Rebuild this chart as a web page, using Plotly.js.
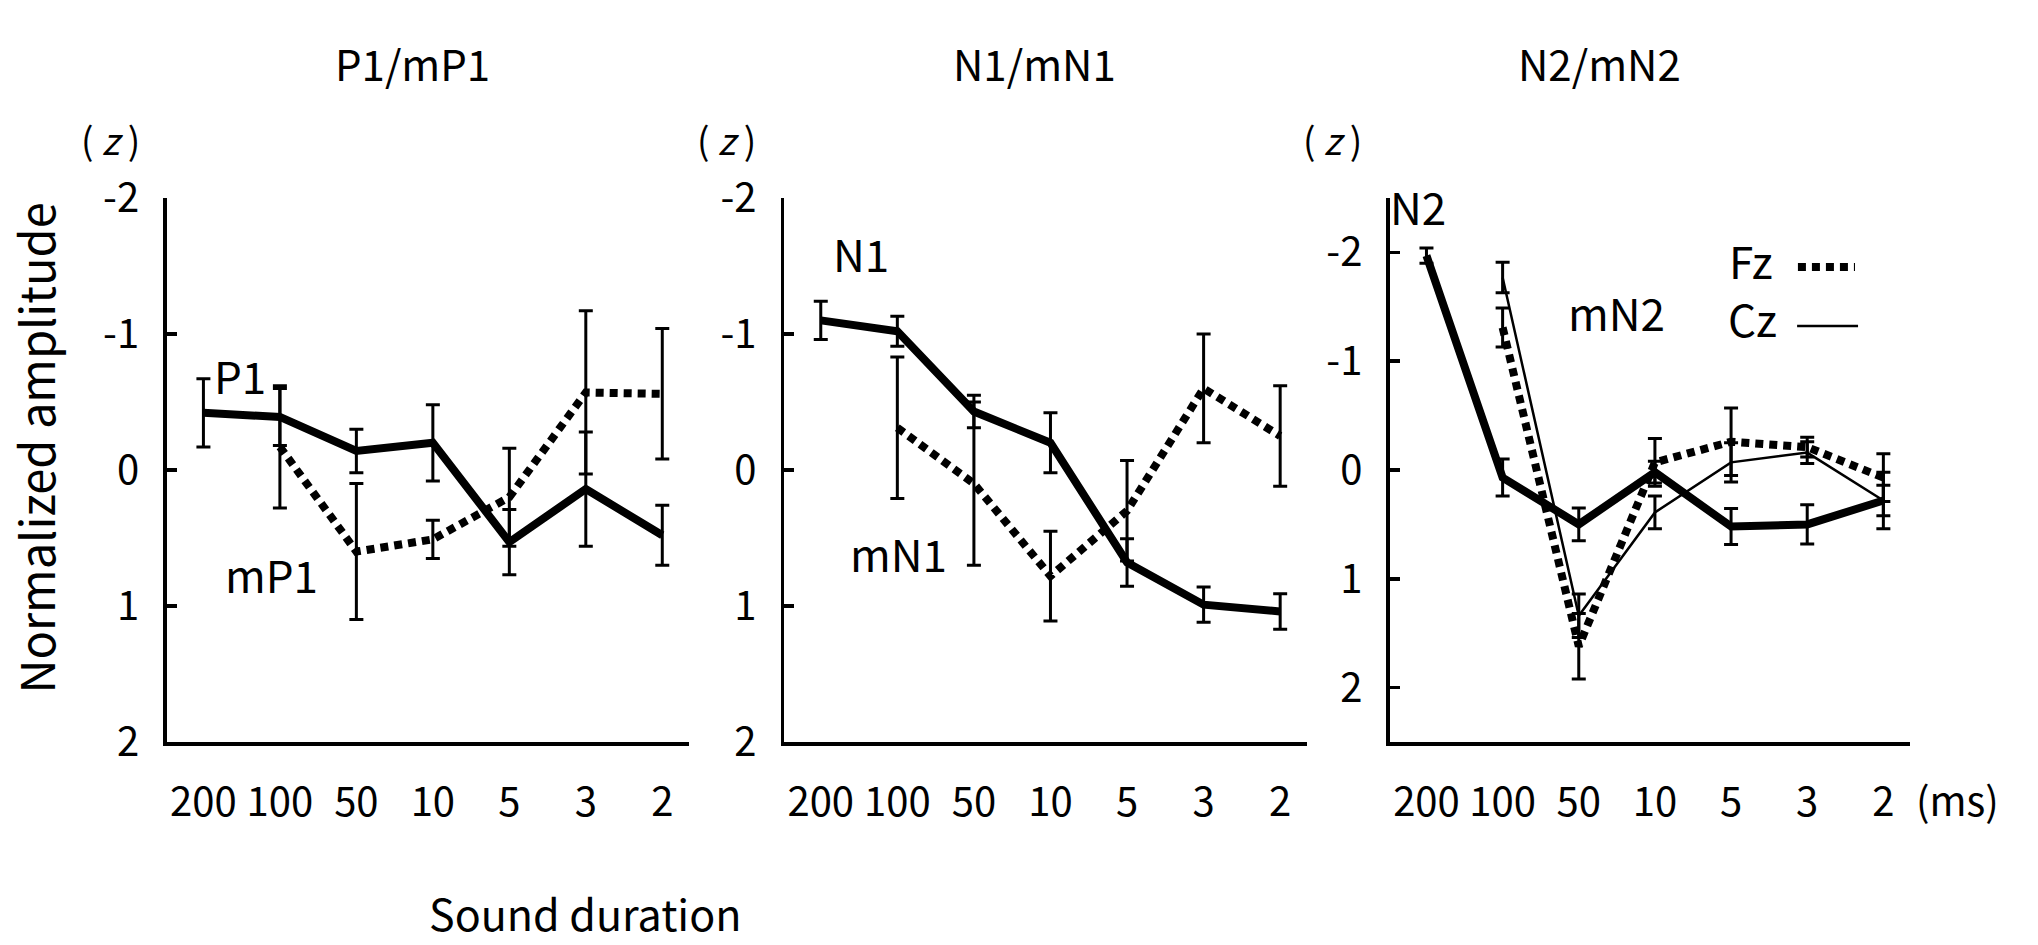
<!DOCTYPE html>
<html>
<head>
<meta charset="utf-8">
<script src="https://cdn.plot.ly/plotly-3.0.1.min.js"></script>
<style>
  html, body { margin: 0; padding: 0; background: #fff; }
  #chart { width: 2038px; height: 945px; }
</style>
</head>
<body>
<div id="chart"></div>
<script>
// sound durations (ms), shared by the three panels
const durations = ["200", "100", "50", "10", "5", "3", "2"];

// P1 / mP1
const p1 = [-0.42, -0.39, -0.14, -0.2, 0.53, 0.14, 0.48];
const p1Err = [0.25, 0.21, 0.16, 0.28, 0.24, 0.42, 0.22];
const mp1 = [null, -0.17, 0.6, 0.51, 0.2, -0.57, -0.56];
const mp1Err = [null, 0.45, 0.5, 0.14, 0.36, 0.6, 0.48];

// N1 / mN1
const n1 = [-1.1, -1.02, -0.43, -0.2, 0.68, 0.99, 1.04];
const n1Err = [0.14, 0.11, 0.12, 0.22, 0.175, 0.13, 0.13];
const mn1 = [null, -0.31, 0.1, 0.78, 0.3, -0.6, -0.25];
const mn1Err = [null, 0.52, 0.6, 0.33, 0.37, 0.4, 0.37];

// N2 / mN2 (Fz, Cz)
const n2 = [-1.97, 0.07, 0.5, 0.02, 0.52, 0.5, 0.28];
const n2Err = [0.07, 0.17, 0.15, 0.1, 0.165, 0.18, 0.26];
const mn2Fz = [null, -1.31, 1.62, -0.07, -0.26, -0.21, 0.07];
const mn2FzErr = [null, 0.18, 0.3, 0.22, 0.31, 0.09, 0.22];
const mn2Cz = [null, -1.77, 1.34, 0.39, -0.07, -0.16, 0.28];
const mn2CzErr = [null, 0.14, 0.2, 0.15, 0.18, 0.1, 0.14];

const yTicks = [-2, -1, 0, 1, 2];
const yTickText = ["-2", "-1", "0", "1", "2"];

const fontFamily = '"Noto Sans CJK JP", "Noto Sans", sans-serif';
const thick = { color: "#000", width: 8 };
const dotted = { color: "#000", width: 8, dash: "8px,6px" };
const thin = { color: "#000", width: 2.5 };

function trace(axis, y, err, line) {
  return {
    x: durations,
    y: y,
    xaxis: "x" + axis,
    yaxis: "y" + axis,
    mode: "lines",
    line: line,
    error_y: {
      type: "data",
      array: err,
      visible: true,
      color: "#000",
      thickness: 3,
      width: 7,
    },
    hoverinfo: "skip",
    showlegend: false,
  };
}

const data = [
  trace("", p1, p1Err, thick),
  trace("", mp1, mp1Err, dotted),
  trace("2", n1, n1Err, thick),
  trace("2", mn1, mn1Err, dotted),
  trace("3", n2, n2Err, thick),
  trace("3", mn2Cz, mn2CzErr, thin),
  trace("3", mn2Fz, mn2FzErr, dotted),
];

function xAxis(domain, anchor) {
  return {
    domain: domain,
    anchor: anchor,
    type: "category",
    range: [-0.48, 6.35],
    showline: true,
    linecolor: "#000",
    linewidth: 3.5,
    ticks: "",
    showgrid: false,
    zeroline: false,
    tickfont: { size: 40, color: "#000" },
    ticklabelstandoff: 22,
    fixedrange: true,
  };
}

function yAxis(anchor, lim) {
  return {
    domain: [0.2148, 0.7905],
    anchor: anchor,
    range: [lim, -lim],
    tickvals: yTicks,
    ticktext: yTickText,
    showline: true,
    linecolor: "#000",
    linewidth: 3.5,
    ticks: "inside",
    ticklen: 10,
    tickwidth: 3.5,
    tickcolor: "#000",
    showgrid: false,
    zeroline: false,
    tickfont: { size: 40, color: "#000" },
    ticklabelstandoff: 16,
    fixedrange: true,
  };
}

function label(text, x, y, size) {
  return {
    text: text,
    x: x,
    y: y,
    xref: "paper",
    yref: "paper",
    showarrow: false,
    xanchor: "center",
    yanchor: "middle",
    font: { size: size, color: "#000", family: fontFamily },
  };
}

const annotations = [
  label("P1/mP1", 0.2026, 0.934, 42),
  label("N1/mN1", 0.5074, 0.934, 42),
  label("N2/mN2", 0.7846, 0.934, 42),
  label("( <i>z</i> )", 0.054, 0.853, 37),
  label("( <i>z</i> )", 0.3567, 0.853, 37),
  label("( <i>z</i> )", 0.6536, 0.853, 37),
  label("P1", 0.118, 0.603, 44),
  label("mP1", 0.133, 0.393, 44),
  label("N1", 0.4225, 0.7323, 44),
  label("mN1", 0.4411, 0.415, 44),
  label("N2", 0.696, 0.782, 44),
  label("mN2", 0.7934, 0.67, 44),
  label("Fz", 0.859, 0.725, 44),
  label("Cz", 0.86, 0.664, 44),
  label("(ms)", 0.9605, 0.155, 40),
  Object.assign(label("Sound duration", 0.287, 0.0, 43), { yanchor: "bottom" }),
  Object.assign(label("Normalized amplitude", 0.017, 0.526, 47), { textangle: -90 }),
];

const shapes = [
  {
    type: "line", xref: "paper", yref: "paper",
    x0: 0.8822, x1: 0.9102, y0: 0.7175, y1: 0.7175,
    line: { color: "#000", width: 8, dash: "8px,6px" },
  },
  {
    type: "line", xref: "paper", yref: "paper",
    x0: 0.8818, x1: 0.9117, y0: 0.655, y1: 0.655,
    line: { color: "#000", width: 2.5 },
  },
];

const layout = {
  width: 2038,
  height: 945,
  margin: { l: 0, r: 0, t: 0, b: 0 },
  paper_bgcolor: "#fff",
  plot_bgcolor: "#fff",
  font: { family: fontFamily, color: "#000" },
  showlegend: false,
  xaxis: xAxis([0.0818, 0.3381], "y"),
  yaxis: yAxis("x", 2),
  xaxis2: xAxis([0.3847, 0.6413], "y2"),
  yaxis2: yAxis("x2", 2),
  xaxis3: xAxis([0.682, 0.9372], "y3"),
  yaxis3: yAxis("x3", 2.5),
  annotations: annotations,
  shapes: shapes,
};

Plotly.newPlot("chart", data, layout, { displayModeBar: false, staticPlot: true });
</script>
</body>
</html>
